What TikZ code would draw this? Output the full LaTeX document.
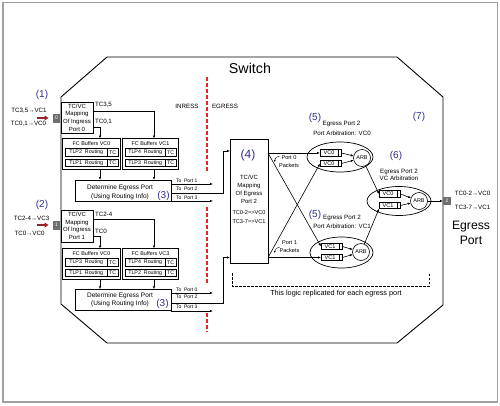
\documentclass[tikz,border=0pt]{standalone}
\usepackage{fontspec}
\setmainfont{Liberation Sans}
\usetikzlibrary{arrows.meta,shapes.geometric}
\definecolor{numblue}{RGB}{45,45,140}
\definecolor{dashred}{RGB}{225,40,40}
\definecolor{inred}{RGB}{150,35,40}
\definecolor{portgray}{RGB}{110,110,110}
\definecolor{framegray}{RGB}{160,160,160}
\begin{document}
\begin{tikzpicture}[x=1pt,y=-1pt,
  every node/.style={inner sep=0pt, outer sep=0pt},
  box/.style={draw, line width=0.8pt},
  num/.style={text=numblue, font=\fontsize{10}{12}\selectfont},
  lbl/.style={font=\fontsize{6.2}{7.2}\selectfont},
  maptext/.style={font=\fontsize{6}{7.6}\selectfont},
  small/.style={font=\fontsize{5.4}{6.4}\selectfont},
  tiny/.style={font=\fontsize{5}{6}\selectfont},
  dettext/.style={font=\fontsize{6.5}{8.5}\selectfont},
  arr/.style={-{Latex[length=3pt,width=2.4pt]}, line width=0.6pt},
  port/.style={fill=portgray, text=white, font=\fontsize{5}{6}\selectfont, minimum width=7pt, minimum height=9pt},
  inarrow/.style={-{Triangle[length=4pt,width=5pt]}, line width=2.2pt, inred},
  cell/.style={draw, line width=0.7pt, minimum height=7.5pt, font=\fontsize{5.3}{6}\selectfont},
  queue/.style={draw, line width=0.6pt, minimum width=18pt, minimum height=6.5pt, font=\fontsize{5.5}{6}\selectfont},
  qcap/.style={line width=0.6pt},
  arb/.style={draw, circle, line width=0.6pt, minimum size=17pt, font=\fontsize{5.5}{6}\selectfont},
  arbell/.style={draw, ellipse, line width=0.7pt},
  reddash/.style={dashred, line width=1.1pt, dash pattern=on 4pt off 2pt},
  curl/.style={-{Latex[length=2pt,width=1.8pt]}, line width=0.4pt}
]
\useasboundingbox (0,0) rectangle (500,405);
\draw[framegray, line width=1.5pt] (3,2.5) rectangle (497.5,402);
% switch outline
\draw[line width=0.9pt] (107,57) -- (397,57) -- (443,97) -- (443,305) -- (397,343) -- (107,343) -- (61,304) -- (61,97) -- cycle;
\node[font=\fontsize{14.3}{16}\selectfont] (sw) at (250,68) {Switch};
\draw[reddash] (207,77) -- (207,172);
\draw[reddash] (207,207) -- (207,283);
\draw[reddash] (207,313) -- (207,332);
\node[lbl] (inr) at (187,106) {INRESS};
\node[lbl] (egr) at (225,106) {EGRESS};

% egress mapping box
\node[box, minimum width=38pt, minimum height=124pt] (em) at (249,201) {};
\node[num, font=\fontsize{12}{14}\selectfont] (n4) at (248,155) {(4)};
\node[maptext, align=center, font=\fontsize{6}{8}\selectfont] (emt) at (249,189) {TC/VC\\Mapping\\Of Egress\\Port 2};
\node[font=\fontsize{5.6}{9}\selectfont, align=center] (emm) at (249,217.5) {TC0-2=>VC0\\TC3-7=>VC1};

% ---------- ingress port 0 ----------
\node[num] (n1) at (42,95) {(1)};
\node[lbl] (m0a) at (29,111) {TC3,5→VC1};
\node[lbl] (m0b) at (28.5,124) {TC0,1→VC0};
\node[port] (p0) at (56.5,118) {0};
\coordinate (r0) at (37,118);
\draw[inarrow, shorten >=4.5pt] (r0) -- (p0.west);
\node[box, maptext, align=center, minimum width=32pt, minimum height=31pt] (map0) at (77,117.5) {TC/VC\\Mapping\\Of Ingress\\Port 0};
\node[lbl, anchor=west] (l0a) at (95,105) {TC3,5};
\node[lbl, anchor=west] (l0b) at (95,122) {TC0,1};

\node[box, minimum width=58pt, minimum height=31pt] (fc0a) at (91.5,154) {};
\node[small] (fc0at) at (91.5,143.5) {FC Buffers VC0};
\node[cell, minimum width=41.5pt] (c0a1) at (86.25,152.5) {TLP2\hspace{1.5pt} Routing};
\node[cell, minimum width=11.5pt] (c0a1t) at (112.75,152.5) {TC};
\node[cell, minimum width=41.5pt] (c0a2) at (86.25,163) {TLP1\hspace{1.5pt} Routing};
\node[cell, minimum width=11.5pt] (c0a2t) at (112.75,163) {TC};

\node[box, minimum width=56pt, minimum height=31pt] (fc0b) at (150.5,154) {};
\node[small] (fc0bt) at (150.5,143.5) {FC Buffers VC1};
\node[cell, minimum width=39.5pt] (c0b1) at (145.25,152.5) {TLP4\hspace{1.5pt} Routing};
\node[cell, minimum width=11.5pt] (c0b1t) at (170.75,152.5) {TC};
\node[cell, minimum width=39.5pt] (c0b2) at (145.25,163) {TLP3\hspace{1.5pt} Routing};
\node[cell, minimum width=11.5pt] (c0b2t) at (170.75,163) {TC};

\draw[arr] (map0.east |- 0,111) -| ([xshift=3.5pt]fc0b.north);
\draw[arr] (map0.east |- 0,127) -| ([xshift=8.5pt]fc0a.north);

\node[box, minimum width=96pt, minimum height=21pt] (det0) at (123,190.5) {};
\node[dettext, align=center] (det0t) at (120,192.5) {Determine Egress Port\\(Using Routing Info)};
\node[num] (n3a) at (163.5,196) {(3)};
\draw[arr] ([xshift=8.5pt]fc0a.south) -- ([xshift=8.5pt]fc0a.south |- det0.north);
\draw[arr] ([xshift=3.5pt]fc0b.south) -- ([xshift=3.5pt]fc0b.south |- det0.north);

\coordinate (t0p1) at (213,184);
\draw[arr] (det0.east |- t0p1) -- (t0p1);
\node[tiny, anchor=base west] (lt0p1) at (176,182.8) {To~ Port 1};
\draw[arr] (det0.east |- 0,193) -| (223,151) -- (em.west |- 0,151);
\node[tiny, anchor=base west] (lt0p2) at (176,190.8) {To~ Port 2};
\coordinate (t0p3) at (213,201);
\draw[arr] (det0.east |- t0p3) -- (t0p3);
\node[tiny, anchor=base west] (lt0p3) at (176,199.6) {To~ Port 3};

% ---------- ingress port 1 ----------
\node[num] (n2) at (42,205) {(2)};
\node[lbl] (m1a) at (31.5,218) {TC2-4→VC3};
\node[lbl] (m1b) at (29.5,233) {TC0→VC0};
\node[port] (p1) at (56.5,225) {1};
\coordinate (r1) at (37,225);
\draw[inarrow, shorten >=4.5pt] (r1) -- (p1.west);
\node[box, maptext, align=center, minimum width=32pt, minimum height=32pt] (map1) at (77,226) {TC/VC\\Mapping\\Of Ingress\\Port 1};
\node[lbl, anchor=west] (l1a) at (95,214) {TC2-4};
\node[lbl, anchor=west] (l1b) at (95,231) {TC0};

\node[box, minimum width=58pt, minimum height=31pt] (fc1a) at (91.5,264) {};
\node[small] (fc1at) at (91.5,253.5) {FC Buffers VC0};
\node[cell, minimum width=41.5pt] (c1a1) at (86.25,262.5) {TLP3\hspace{1.5pt} Routing};
\node[cell, minimum width=11.5pt] (c1a1t) at (112.75,262.5) {TC};
\node[cell, minimum width=41.5pt] (c1a2) at (86.25,273) {TLP1\hspace{1.5pt} Routing};
\node[cell, minimum width=11.5pt] (c1a2t) at (112.75,273) {TC};

\node[box, minimum width=56pt, minimum height=31pt] (fc1b) at (150.5,264) {};
\node[small] (fc1bt) at (150.5,253.5) {FC Buffers VC3};
\node[cell, minimum width=39.5pt] (c1b1) at (145.25,262.5) {TLP4\hspace{1.5pt} Routing};
\node[cell, minimum width=11.5pt] (c1b1t) at (170.75,262.5) {TC};
\node[cell, minimum width=39.5pt] (c1b2) at (145.25,273) {TLP2\hspace{1.5pt} Routing};
\node[cell, minimum width=11.5pt] (c1b2t) at (170.75,273) {TC};

\draw[arr] (map1.east |- 0,219) -| ([xshift=3.5pt]fc1b.north);
\draw[arr] (map1.east |- 0,236) -| ([xshift=8.5pt]fc1a.north);

\node[box, minimum width=96pt, minimum height=21.5pt] (det1) at (123,300) {};
\node[dettext, align=center] (det1t) at (120,300) {Determine Egress Port\\(Using Routing Info)};
\node[num] (n3b) at (162.5,304) {(3)};
\draw[arr] ([xshift=8.5pt]fc1a.south) -- ([xshift=8.5pt]fc1a.south |- det1.north);
\draw[arr] ([xshift=3.5pt]fc1b.south) -- ([xshift=3.5pt]fc1b.south |- det1.north);

\coordinate (t1p0) at (213,293);
\draw[arr] (det1.east |- t1p0) -- (t1p0);
\node[tiny, anchor=base west] (lt1p0) at (176,291.8) {To~ Port 0};
\draw[arr] (det1.east |- 0,303) -| (223,257.5) -- (em.west |- 0,257.5);
\node[tiny, anchor=base west] (lt1p2) at (176,298.8) {To~ Port 2};
\coordinate (t1p3) at (213,311);
\draw[arr] (det1.east |- t1p3) -- (t1p3);
\node[tiny, anchor=base west] (lt1p3) at (176,308.8) {To~ Port 3};

% ---------- port arbitration VC0 ----------
\node[arbell, minimum width=66pt, minimum height=30pt] (ea) at (340,157) {};
\node[queue] (qa1) at (329,153) {VC0};
\draw[qcap] (qa1.north east) rectangle ([xshift=3.5pt]qa1.south east);
\node[queue] (qa2) at (329,163.5) {VC0};
\draw[qcap] (qa2.north east) rectangle ([xshift=3.5pt]qa2.south east);
\node[arb] (arba) at (362,158) {ARB};
\draw[arr] ([xshift=3.5pt]qa1.east) -- (arba);
\draw[arr] ([xshift=3.5pt]qa2.east) -- (arba);
\node[num] (n5a) at (315,118) {(5)};
\node[lbl] (ea1) at (341.5,124) {Egress Port 2};
\node[lbl] (ea2) at (342,133) {Port Arbitration: VC0};

% ---------- port arbitration VC1 ----------
\node[arbell, minimum width=63pt, minimum height=31pt] (eb) at (341.5,252.5) {};
\node[queue] (qb1) at (330,246.5) {VC1};
\draw[qcap] (qb1.north east) rectangle ([xshift=3.5pt]qb1.south east);
\node[queue] (qb2) at (330,257.5) {VC1};
\draw[qcap] (qb2.north east) rectangle ([xshift=3.5pt]qb2.south east);
\node[arb] (arbb) at (361,252) {ARB};
\draw[arr] ([xshift=3.5pt]qb1.east) -- (arbb);
\draw[arr] ([xshift=3.5pt]qb2.east) -- (arbb);
\node[num] (n5b) at (315,214.5) {(5)};
\node[lbl] (eb1) at (342,218) {Egress Port 2};
\node[lbl] (eb2) at (342,226) {Port Arbitration: VC1};

% ---------- VC arbitration ----------
\node[arbell, minimum width=64pt, minimum height=29pt] (ec) at (399,201) {};
\node[queue] (qc1) at (388,194) {VC0};
\draw[qcap] (qc1.north east) rectangle ([xshift=3.5pt]qc1.south east);
\node[queue] (qc2) at (388,205.5) {VC1};
\draw[qcap] (qc2.north east) rectangle ([xshift=3.5pt]qc2.south east);
\node[arb] (arbc) at (419,201) {ARB};
\draw[arr] ([xshift=3.5pt]qc1.east) -- (arbc);
\draw[arr] ([xshift=3.5pt]qc2.east) -- (arbc);
\node[num] (n6) at (396,156) {(6)};
\node[lbl, align=center] (ect) at (399,175) {Egress Port 2\\VC Arbitration};
\node[num] (n7) at (419,117) {(7)};

% packets to port arbitration
\coordinate (pk0) at (em.east |- 0,153);
\coordinate (pk1) at (em.east |- 0,257.5);
\draw[arr] (pk0) -- (qa1.west);
\draw[arr] (pk0) -- (qb1.west);
\draw[arr] (pk1) -- (qb2.west);
\draw[arr] (pk1) -- (qa2.west);
\node[small, align=center, font=\fontsize{5.6}{8}\selectfont] (pk0t) at (289,162) {Port 0\\Packets};
\coordinate (cu0a) at (279.5,156.5);
\coordinate (cu0b) at (274.5,162);
\draw[curl] (cu0a) .. controls (276,156.5) and (275,158.5) .. (cu0b);
\node[small, align=center, font=\fontsize{5.6}{8}\selectfont] (pk1t) at (289.5,246.5) {Port 1\\Packets};
\coordinate (cu1a) at (279.5,247.5);
\coordinate (cu1b) at (274.5,253);
\draw[curl] (cu1a) .. controls (276,247.5) and (275,250) .. (cu1b);

% arbitration chain
\node[port, minimum width=8pt, minimum height=8pt] (p2) at (447,201) {2};
\draw[arr] (arba) -- (qc1.west);
\draw[arr] (arbb) -- (qc2.south west);
\draw[arr] (arbc) -- (p2);

% replicated bracket
\coordinate (bl) at (232,273);
\coordinate (br) at (429,273);
\draw[line width=0.7pt, dash pattern=on 2.5pt off 1.5pt] (bl) -- (232,286) -- (429,286) -- (br);
\node[font=\fontsize{7.3}{8}\selectfont] (rep) at (336,294) {This logic replicated for each egress port};

% egress port
\node[lbl] (e1) at (472.5,193) {TC0-2→VC0};
\node[lbl] (e2) at (472.5,207) {TC3-7→VC1};
\node[font=\fontsize{12.2}{15}\selectfont, align=center] (ep) at (471,232.5) {Egress\\Port};
\end{tikzpicture}
\end{document}
